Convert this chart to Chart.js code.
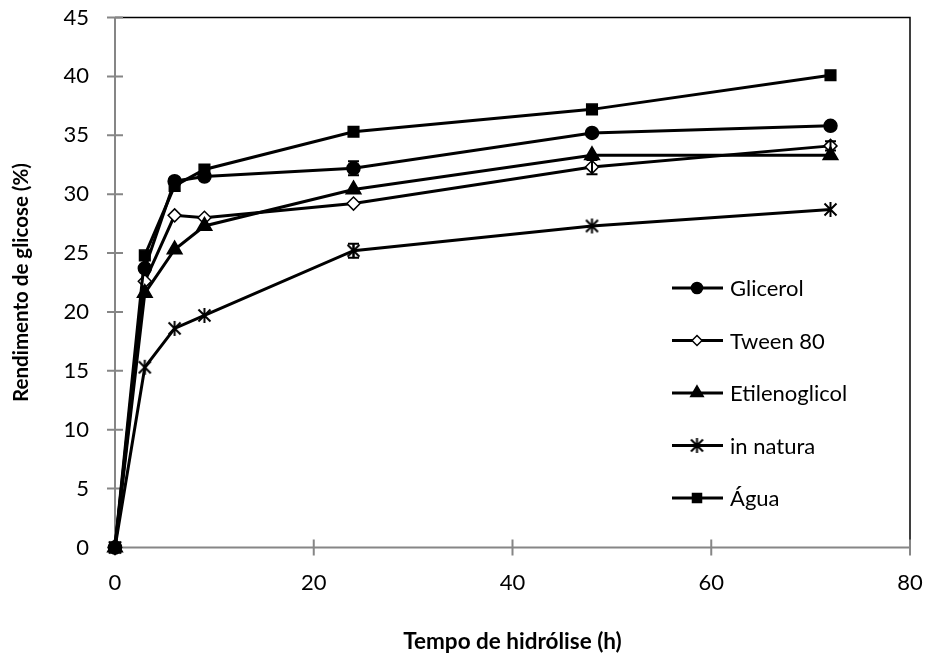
<!DOCTYPE html>
<html>
<head>
<meta charset="utf-8">
<script src="https://cdn.jsdelivr.net/npm/chart.js@4.4.1/dist/chart.umd.min.js"></script>
<style>
  html, body { margin: 0; padding: 0; background: #ffffff; }
  #wrap { width: 926px; height: 658px; position: relative; }
</style>
</head>
<body>
<div id="wrap"><canvas id="chart" width="926" height="658"></canvas></div>
<script>
// Hydrolysis time (h)
const times = [0, 3, 6, 9, 24, 48, 72];

// Glucose yield (%) per pretreatment
const glicerol      = [0, 23.7, 31.1, 31.5, 32.2, 35.2, 35.8];
const tween80       = [0, 22.6, 28.2, 28.0, 29.2, 32.3, 34.1];
const etilenoglicol = [0, 21.6, 25.3, 27.3, 30.4, 33.3, 33.3];
const inNatura      = [0, 15.3, 18.6, 19.7, 25.2, 27.3, 28.7];
const agua          = [0, 24.8, 30.7, 32.1, 35.3, 37.2, 40.1];

// Standard deviations (0 = no bar drawn)
const errGlicerol      = [0, 0, 0.3, 0, 0.6, 0, 0];
const errTween80       = [0, 0, 0, 0, 0, 0.6, 0.4];
const errEtilenoglicol = [0, 0, 0, 0, 0, 0, 0];
const errInNatura      = [0, 0, 0, 0, 0.6, 0, 0];
const errAgua          = [0, 0, 0.4, 0, 0, 0, 0];

const seriesNames = ['Glicerol', 'Tween 80', 'Etilenoglicol', 'in natura', 'Água'];

const xTicks = [0, 20, 40, 60, 80];
const yTicks = [0, 5, 10, 15, 20, 25, 30, 35, 40, 45];

const FONT = 'Lato, "Open Sans", sans-serif';
const AXIS_GREY = '#868686';

// Asterisk marker: an X crossed by a vertical stroke
function makeStar(size) {
  const c = document.createElement('canvas');
  c.width = size; c.height = size;
  const g = c.getContext('2d');
  g.strokeStyle = '#000';
  g.lineWidth = 2;
  const m = size / 2, r = size / 2 - 1;
  g.beginPath();
  g.moveTo(m - r * 0.8, m - r * 0.8); g.lineTo(m + r * 0.8, m + r * 0.8);
  g.moveTo(m + r * 0.8, m - r * 0.8); g.lineTo(m - r * 0.8, m + r * 0.8);
  g.moveTo(m, m - r); g.lineTo(m, m + r);
  g.stroke();
  return c;
}
const starMarker = makeStar(17);

function pts(ys) { return times.map((t, i) => ({ x: t, y: ys[i] })); }

const styles = [
  { pointStyle: 'circle',   radius: 6.5, bg: '#000' },
  { pointStyle: 'rectRot',  radius: 6.5, bg: '#fff' },
  { pointStyle: 'triangle', radius: 8.5, bg: '#000' },
  { pointStyle: starMarker, radius: 8.5, bg: '#000' },
  { pointStyle: 'rect',     radius: 7.5, bg: '#000' }
];
const values = [glicerol, tween80, etilenoglicol, inNatura, agua];
const errors = [errGlicerol, errTween80, errEtilenoglicol, errInNatura, errAgua];

const datasets = seriesNames.map((name, i) => ({
  label: name,
  data: pts(values[i]),
  errors: errors[i],
  borderColor: '#000',
  borderWidth: 3,
  backgroundColor: styles[i].bg,
  pointStyle: styles[i].pointStyle,
  pointRadius: styles[i].radius,
  pointBackgroundColor: styles[i].bg,
  pointBorderColor: '#000',
  pointBorderWidth: 1.5,
  tension: 0,
  clip: false,
  order: 4 - i
}));

// Axis lines with crossing tick marks, plus the dark frame on top and right
const frame = {
  id: 'frame',
  beforeDatasetsDraw(chart) {
    const { ctx, chartArea: a, scales: { x, y } } = chart;
    ctx.save();
    ctx.strokeStyle = '#000';
    ctx.lineWidth = 1.5;
    ctx.beginPath();
    ctx.moveTo(a.left, a.top); ctx.lineTo(a.right, a.top); ctx.lineTo(a.right, a.bottom);
    ctx.stroke();
    ctx.strokeStyle = AXIS_GREY;
    ctx.lineWidth = 2;
    ctx.beginPath();
    ctx.moveTo(a.left, a.top); ctx.lineTo(a.left, a.bottom); ctx.lineTo(a.right, a.bottom);
    yTicks.forEach(v => {
      const py = y.getPixelForValue(v);
      ctx.moveTo(a.left - 8, py); ctx.lineTo(a.left + 8, py);
    });
    xTicks.forEach(v => {
      const px = x.getPixelForValue(v);
      ctx.moveTo(px, a.bottom - 8); ctx.lineTo(px, a.bottom + 8);
    });
    ctx.stroke();
    ctx.restore();
  }
};

// Vertical error bars with caps
const errorBars = {
  id: 'errorBars',
  afterDatasetsDraw(chart) {
    const { ctx, scales: { x, y } } = chart;
    ctx.save();
    ctx.strokeStyle = '#000';
    ctx.lineWidth = 2;
    chart.data.datasets.forEach(ds => {
      ds.data.forEach((p, i) => {
        const e = ds.errors[i];
        if (!e) return;
        const px = x.getPixelForValue(p.x);
        const y1 = y.getPixelForValue(p.y + e);
        const y2 = y.getPixelForValue(p.y - e);
        ctx.beginPath();
        ctx.moveTo(px, y1); ctx.lineTo(px, y2);
        ctx.moveTo(px - 5.5, y1); ctx.lineTo(px + 5.5, y1);
        ctx.moveTo(px - 5.5, y2); ctx.lineTo(px + 5.5, y2);
        ctx.stroke();
      });
    });
    ctx.restore();
  }
};

// Legend drawn inside the plot area
const innerLegend = {
  id: 'innerLegend',
  afterDraw(chart) {
    const { ctx } = chart;
    const x0 = 672, x1 = 723, xm = 697, tx = 730, y0 = 288, dy = 52.5;
    ctx.save();
    ctx.font = '22px ' + FONT;
    ctx.fillStyle = '#000';
    ctx.textBaseline = 'middle';
    ctx.textAlign = 'left';
    chart.data.datasets.forEach((ds, i) => {
      const yy = y0 + i * dy;
      ctx.strokeStyle = '#000';
      ctx.lineWidth = 3;
      ctx.beginPath(); ctx.moveTo(x0, yy); ctx.lineTo(x1, yy); ctx.stroke();
      ctx.fillStyle = ds.pointBackgroundColor;
      ctx.strokeStyle = '#000';
      ctx.lineWidth = 1.5;
      Chart.helpers.drawPoint(ctx, {
        pointStyle: ds.pointStyle,
        radius: ds.pointStyle === 'rectRot' ? 5 : ds.pointRadius * 0.85,
        rotation: 0,
        borderWidth: 1.5
      }, xm, yy);
      ctx.fillStyle = '#000';
      ctx.fillText(ds.label, tx, yy + 1);
    });
    ctx.restore();
  }
};

new Chart(document.getElementById('chart'), {
  type: 'line',
  data: { datasets },
  plugins: [frame, errorBars, innerLegend],
  options: {
    responsive: false,
    animation: false,
    events: [],
    layout: { padding: { top: 17.5, right: 16, left: 0, bottom: 0 } },
    plugins: { legend: { display: false }, tooltip: { enabled: false } },
    scales: {
      x: {
        type: 'linear',
        min: 0, max: 80,
        afterBuildTicks: s => { s.ticks = xTicks.map(v => ({ value: v })); },
        afterFit: s => { s.height = 110.5; s.paddingLeft = 0; s.paddingRight = 0; },
        grid: { display: false, drawTicks: false },
        border: { display: false },
        ticks: { padding: 22, color: '#000', font: { family: FONT, size: 22 } },
        title: {
          display: true,
          text: 'Tempo de hidrólise (h)',
          color: '#000',
          font: { family: FONT, size: 22.5, weight: 'bold' },
          padding: { top: 0, bottom: 3 }
        }
      },
      y: {
        type: 'linear',
        min: 0, max: 45,
        afterBuildTicks: s => { s.ticks = yTicks.map(v => ({ value: v })); },
        afterFit: s => { s.width = 115; s.paddingTop = 0; s.paddingBottom = 0; },
        grid: { display: false, drawTicks: false },
        border: { display: false },
        ticks: { padding: 26, color: '#000', font: { family: FONT, size: 22 } },
        title: {
          display: true,
          text: 'Rendimento de glicose (%)',
          color: '#000',
          font: { family: FONT, size: 20.5, weight: 'bold' },
          padding: { top: 9, bottom: 0 }
        }
      }
    }
  }
});
</script>
</body>
</html>
